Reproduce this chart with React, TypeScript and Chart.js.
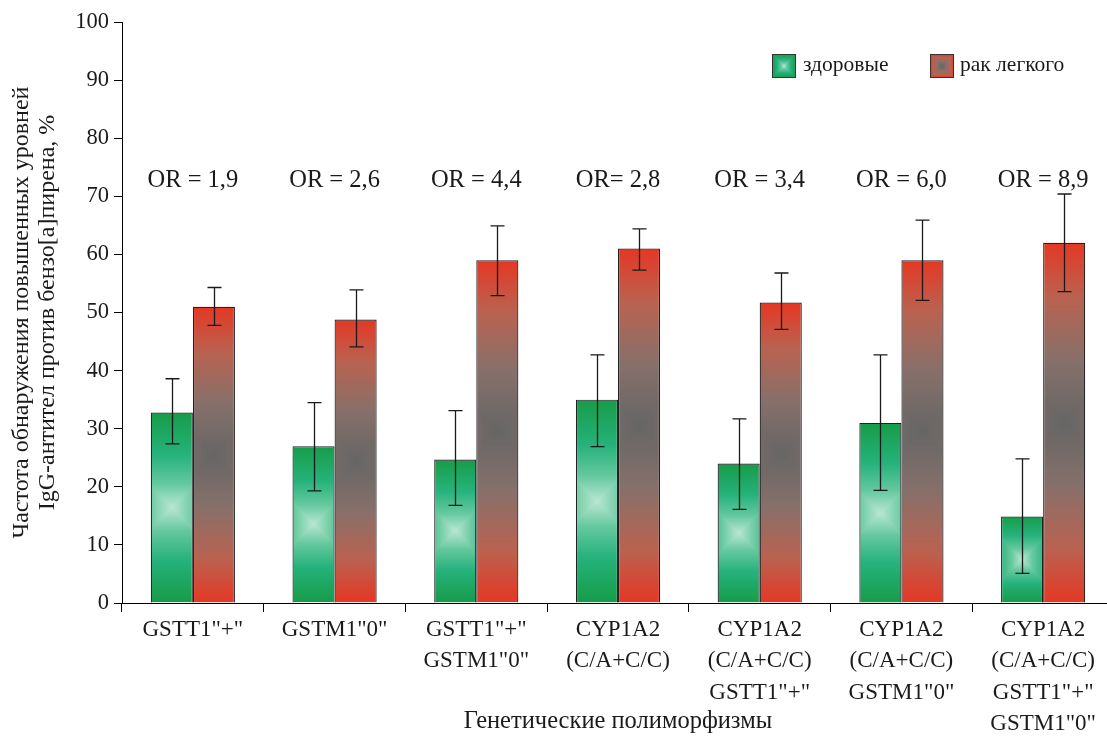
import React, { useEffect, useRef } from 'react';
import { Chart, registerables } from 'chart.js';

Chart.register(...registerables);

// ---------- DATA ----------
const categories: string[][] = [
  ['GSTT1"+"'],
  ['GSTM1"0"'],
  ['GSTT1"+"', 'GSTM1"0"'],
  ['CYP1A2', '(C/A+C/C)'],
  ['CYP1A2', '(C/A+C/C)', 'GSTT1"+"'],
  ['CYP1A2', '(C/A+C/C)', 'GSTM1"0"'],
  ['CYP1A2', '(C/A+C/C)', 'GSTT1"+"', 'GSTM1"0"'],
];
const healthy = [32.8, 27, 24.7, 35, 24, 31, 14.9];
const cancer = [51, 48.8, 59, 61, 51.7, 59, 62];
const healthyLow = [27.4, 19.3, 16.8, 26.9, 16.1, 19.4, 5.1];
const healthyHigh = [38.6, 34.5, 33.1, 42.7, 31.7, 42.7, 24.8];
const cancerLow = [47.8, 44.1, 52.9, 57.3, 47.1, 52.1, 53.6];
const cancerHigh = [54.3, 53.9, 64.9, 64.4, 56.8, 65.9, 70.4];
const orLabels = ['OR = 1,9', 'OR = 2,6', 'OR = 4,4', 'OR= 2,8', 'OR = 3,4', 'OR = 6,0', 'OR = 8,9'];
const orLevel = 72.7;
const seriesNames = ['здоровые', 'рак легкого'];
const yTitle = ['Частота обнаружения повышенных уровней', 'IgG-антител против бензо[a]пирена, %'];
const xTitle = 'Генетические полиморфизмы';

// ---------- STYLE ----------
const FONT = '"Liberation Serif", "Times New Roman", serif';
const TEXT = '#1a1a1a';
type RGB = [number, number, number];
type Stop = [number, RGB];
const greenStops: Stop[] = [
  [0, [185, 230, 210]],
  [0.25, [100, 200, 158]],
  [0.55, [38, 178, 124]],
  [1, [22, 156, 72]],
];
const redStops: Stop[] = [
  [0, [102, 102, 102]],
  [0.35, [135, 112, 106]],
  [0.7, [186, 98, 80]],
  [1, [228, 56, 36]],
];

function colorAt(stops: Stop[], t: number): RGB {
  if (t <= stops[0][0]) return stops[0][1];
  for (let k = 1; k < stops.length; k++) {
    if (t <= stops[k][0]) {
      const [t0, c0] = stops[k - 1];
      const [t1, c1] = stops[k];
      const f = (t - t0) / (t1 - t0);
      return [c0[0] + (c1[0] - c0[0]) * f, c0[1] + (c1[1] - c0[1]) * f, c0[2] + (c1[2] - c0[2]) * f];
    }
  }
  return stops[stops.length - 1][1];
}

function makeRectGradient(ctx: CanvasRenderingContext2D, x: number, y: number, w: number, h: number, stops: Stop[], square = false) {
  const W = Math.max(1, Math.round(w));
  const H = Math.max(1, Math.round(h));
  const off = document.createElement('canvas');
  off.width = W;
  off.height = H;
  const octx = off.getContext('2d')!;
  const img = octx.createImageData(W, H);
  const hw = W / 2;
  const hh = H / 2;
  for (let j = 0; j < H; j++) {
    for (let i = 0; i < W; i++) {
      const dxp = Math.abs(i + 0.5 - hw);
      const dyp = Math.abs(j + 0.5 - hh);
      const t = square ? Math.max(dxp / hw, dyp / hh) : Math.min(1, Math.max(dxp, dyp) / Math.max(hh, hw));
      const c = colorAt(stops, t);
      const p = (j * W + i) * 4;
      img.data[p] = c[0];
      img.data[p + 1] = c[1];
      img.data[p + 2] = c[2];
      img.data[p + 3] = 255;
    }
  }
  octx.putImageData(img, 0, 0);
  const pat = ctx.createPattern(off, 'no-repeat')!;
  pat.setTransform(new DOMMatrix([1, 0, 0, 1, x, y]));
  return pat;
}

const barFillPlugin = {
  id: 'barFill',
  beforeDatasetsDraw(chart: any) {
    const ctx = chart.ctx as CanvasRenderingContext2D;
    chart.data.datasets.forEach((_: any, di: number) => {
      const meta = chart.getDatasetMeta(di);
      const stops = di === 0 ? greenStops : redStops;
      meta.data.forEach((el: any) => {
        const left = el.x - el.width / 2;
        const top = Math.min(el.y, el.base);
        const h = Math.abs(el.base - el.y);
        el.options.backgroundColor = makeRectGradient(ctx, left, top, el.width, h, stops);
      });
    });
  },
};

const errorBarPlugin = {
  id: 'errorBars',
  afterDatasetsDraw(chart: any) {
    const ctx = chart.ctx as CanvasRenderingContext2D;
    const yScale = chart.scales.y;
    const lows = [healthyLow, cancerLow];
    const highs = [healthyHigh, cancerHigh];
    ctx.save();
    ctx.strokeStyle = '#1a1a1a';
    ctx.lineWidth = 1.3;
    chart.data.datasets.forEach((_: any, di: number) => {
      const meta = chart.getDatasetMeta(di);
      meta.data.forEach((el: any, i: number) => {
        const x = Math.round(el.x) + 0.5;
        const y1 = yScale.getPixelForValue(lows[di][i]);
        const y2 = yScale.getPixelForValue(highs[di][i]);
        ctx.beginPath();
        ctx.moveTo(x, y1);
        ctx.lineTo(x, y2);
        ctx.moveTo(x - 7, y1);
        ctx.lineTo(x + 7, y1);
        ctx.moveTo(x - 7, y2);
        ctx.lineTo(x + 7, y2);
        ctx.stroke();
      });
    });
    ctx.restore();
  },
};

const annotationPlugin = {
  id: 'annotations',
  afterDraw(chart: any) {
    const ctx = chart.ctx as CanvasRenderingContext2D;
    const xScale = chart.scales.x;
    const yScale = chart.scales.y;
    ctx.save();
    ctx.fillStyle = TEXT;
    ctx.font = `24.5px ${FONT}`;
    ctx.textAlign = 'center';
    ctx.textBaseline = 'middle';
    const yy = yScale.getPixelForValue(orLevel);
    orLabels.forEach((t, i) => {
      ctx.fillText(t, xScale.getPixelForValue(i), yy);
    });
    // legend
    const boxes = [
      { x: 772, label: seriesNames[0], tx: 803, stops: greenStops },
      { x: 930, label: seriesNames[1], tx: 960, stops: redStops },
    ];
    ctx.font = `21.5px ${FONT}`;
    ctx.textAlign = 'left';
    boxes.forEach((b) => {
      const by = 54;
      ctx.fillStyle = makeRectGradient(ctx, b.x, by, 24, 24, b.stops, true);
      ctx.fillRect(b.x, by, 24, 24);
      ctx.strokeStyle = '#333';
      ctx.lineWidth = 1;
      ctx.strokeRect(b.x + 0.5, by + 0.5, 23, 23);
      ctx.fillStyle = TEXT;
      ctx.fillText(b.label, b.tx, by + 11);
    });
    ctx.restore();
  },
};

export default function App() {
  const ref = useRef<HTMLCanvasElement>(null);
  useEffect(() => {
    const canvas = ref.current!;
    const chart = new Chart(canvas, {
      type: 'bar',
      data: {
        labels: categories as any,
        datasets: [
          {
            label: seriesNames[0],
            data: healthy,
            backgroundColor: () => '#1a9e48',
            borderColor: '#222',
            borderWidth: 1.2,
            inflateAmount: 0,
          },
          {
            label: seriesNames[1],
            data: cancer,
            backgroundColor: () => '#e03a28',
            borderColor: '#222',
            borderWidth: 1.2,
            inflateAmount: 0,
          },
        ],
      },
      options: {
        responsive: false,
        animation: false,
        devicePixelRatio: 1,
        layout: { padding: { top: 22, right: 2, left: 0, bottom: 0 } },
        plugins: {
          legend: { display: false },
          tooltip: { enabled: false },
        },
        datasets: {
          bar: { categoryPercentage: 0.594, barPercentage: 1.0 },
        },
        scales: {
          x: {
            type: 'category',
            offset: true,
            grid: { offset: true, drawOnChartArea: false, drawTicks: true, tickLength: 9, color: '#000' },
            border: { color: '#000', width: 1 },
            ticks: {
              color: TEXT,
              font: { family: FONT, size: 23, lineHeight: 31.5 / 23 },
              padding: 2,
              maxRotation: 0,
              minRotation: 0,
              autoSkip: false,
            },
            title: {
              display: true,
              text: xTitle,
              color: TEXT,
              font: { family: FONT, size: 24.5 },
              padding: { top: 0, bottom: 1 },
            },
            afterFit(scale: any) {
              scale.height = 134;
            },
          },
          y: {
            min: 0,
            max: 100,
            grid: { drawOnChartArea: false, drawTicks: true, tickLength: 8, color: '#000' },
            border: { color: '#000', width: 1 },
            ticks: {
              stepSize: 10,
              color: TEXT,
              font: { family: FONT, size: 22.5 },
              padding: 5,
            },
            title: {
              display: true,
              text: yTitle,
              color: TEXT,
              font: { family: FONT, size: 24, lineHeight: 26 / 24 },
              padding: { top: 9, bottom: 0 },
            },
            afterFit(scale: any) {
              scale.width = 122;
            },
          },
        },
      },
      plugins: [barFillPlugin, errorBarPlugin, annotationPlugin],
    } as any);
    return () => chart.destroy();
  }, []);

  return (
    <div style={{ position: 'fixed', left: 0, top: 0, width: 1107, height: 737, overflow: 'hidden', background: '#fff' }}>
      <canvas ref={ref} width={1116} height={737} style={{ display: 'block', width: 1116, height: 737 }} />
    </div>
  );
}
